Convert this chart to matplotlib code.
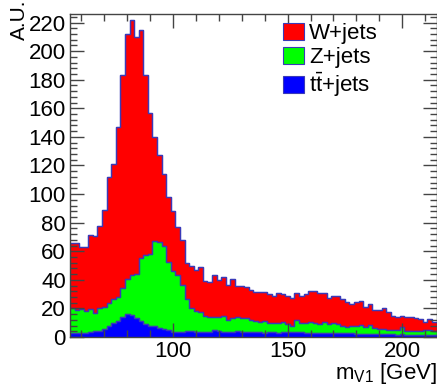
import numpy as np
import matplotlib
matplotlib.use("Agg")
import matplotlib.pyplot as plt
from matplotlib.ticker import MultipleLocator

plt.rcParams["font.family"] = ["Liberation Sans", "DejaVu Sans"]
plt.rcParams["mathtext.default"] = "regular"

# 80 bins of 2 GeV from 55 to 215
bin_edges = np.arange(55, 216, 2)

# stacked heights (top of each layer)
w_top = [65.7, 65.7, 62.7, 62.7, 71.1, 70.4, 77.4, 89.1, 111.8, 120.7,
         146.9, 183.4, 211.9, 222.0, 209.6, 215.0, 183.4, 157.0, 139.9, 127.2,
         113.7, 98.0, 87.9, 77.0, 68.0, 51.5, 50.0, 47.0, 49.3, 39.5,
         38.5, 43.3, 39.8, 42.3, 36.5, 40.3, 36.0, 35.8, 35.3, 33.0,
         31.5, 31.5, 31.8, 29.8, 29.0, 30.5, 30.2, 29.0, 27.1, 31.1,
         28.8, 30.2, 32.3, 32.3, 30.6, 30.6, 27.6, 28.8, 28.8, 26.7,
         24.3, 22.9, 24.8, 25.3, 21.3, 22.9, 19.0, 19.0, 20.1, 17.8,
         14.7, 13.8, 14.7, 14.3, 13.8, 13.6, 12.4, 10.8, 12.4, 10.8]

z_top = [20.1, 19.0, 19.5, 18.2, 19.3, 16.6, 20.6, 21.3, 23.6, 26.4,
         28.3, 34.2, 40.7, 43.5, 44.2, 55.0, 57.3, 58.0, 67.2, 66.2,
         64.0, 52.6, 46.5, 43.2, 36.5, 26.5, 20.5, 18.5, 17.4, 15.0,
         14.2, 14.3, 14.0, 14.5, 12.0, 13.5, 13.9, 13.5, 13.0, 11.7,
         11.5, 10.8, 11.5, 9.6, 9.6, 9.6, 10.3, 9.0, 7.7, 11.9,
         9.6, 9.9, 10.6, 10.0, 9.1, 10.6, 9.1, 9.5, 9.1, 7.9,
         7.2, 7.5, 7.5, 8.7, 7.2, 8.7, 6.1, 5.4, 5.4, 5.2,
         5.0, 4.9, 7.2, 4.5, 4.3, 4.2, 4.2, 4.6, 4.9, 3.9]

tt_top = [2.6, 2.6, 3.0, 2.6, 3.3, 4.2, 4.4, 5.6, 7.7, 9.6,
          11.2, 14.3, 15.8, 15.2, 13.0, 11.5, 9.4, 7.7, 7.5, 6.1,
          5.4, 4.9, 3.7, 3.5, 3.7, 4.2, 4.2, 3.8, 3.6, 3.5,
          3.7, 4.6, 4.4, 3.8, 3.4, 3.6, 3.9, 3.5, 3.8, 3.3,
          3.2, 3.4, 3.0, 3.3, 3.2, 2.9, 3.4, 3.2, 3.5, 3.4,
          3.2, 3.0, 3.1, 2.9, 2.8, 3.0, 2.7, 2.9, 2.6, 2.7,
          2.5, 2.6, 2.3, 2.4, 2.3, 2.2, 2.1, 2.0, 2.0, 1.9,
          1.8, 1.7, 1.9, 1.6, 1.5, 1.6, 1.4, 1.5, 1.3, 1.4]

labels = ["W+jets", "Z+jets", r"t$\bar{t}$+jets"]
colors = ["#ff0000", "#00ff00", "#0000ff"]
edge = "#3a3ab8"

fig = plt.figure(figsize=(4.37, 3.85), dpi=100)
ax = fig.add_axes([70 / 437, 48 / 385, 366.5 / 437, 323 / 385])

layers = [(w_top, z_top), (z_top, tt_top), (tt_top, None)]
for (top, base), lab, col in zip(layers, labels, colors):
    b = 0 if base is None else base
    ax.stairs(top, bin_edges, baseline=b, fill=True, color=col, lw=0, label=lab)
for top in (w_top, z_top, tt_top):
    ax.stairs(top, bin_edges, baseline=None, color=edge, lw=1)

ax.set_xlim(55, 215)
ax.set_ylim(0, 226)
ax.xaxis.set_major_locator(MultipleLocator(50))
ax.xaxis.set_minor_locator(MultipleLocator(10))
ax.yaxis.set_major_locator(MultipleLocator(20))
ax.yaxis.set_minor_locator(MultipleLocator(4))
ax.tick_params(which="both", direction="in", top=True, right=True,
               labelsize=16, color="#444444")
ax.tick_params(which="major", length=10, width=1)
ax.tick_params(which="minor", length=5, width=1)
ax.tick_params(axis="y", pad=3)
ax.tick_params(axis="x", pad=3)
for s in ax.spines.values():
    s.set_linewidth(1)
    s.set_color("#444444")

ax.set_xlabel(r"m$_{V1}$ [GeV]", fontsize=16, ha="right", va="top")
ax.xaxis.set_label_coords(1.0, -0.073)
fig.text(19 / 437, 1.0, "A.U.", rotation=90, ha="center", va="top", fontsize=15)

h, l = ax.get_legend_handles_labels()
for p in h:
    p.set_edgecolor(edge)
    p.set_linewidth(0.8)
ax.legend(h, l, loc="upper left", bbox_to_anchor=(0.556, 1.0), frameon=False,
          fontsize=16, handlelength=0.95, handleheight=0.8, handletextpad=0.25,
          labelspacing=0.12, borderaxespad=0)

fig.savefig("out.png", dpi=100)
